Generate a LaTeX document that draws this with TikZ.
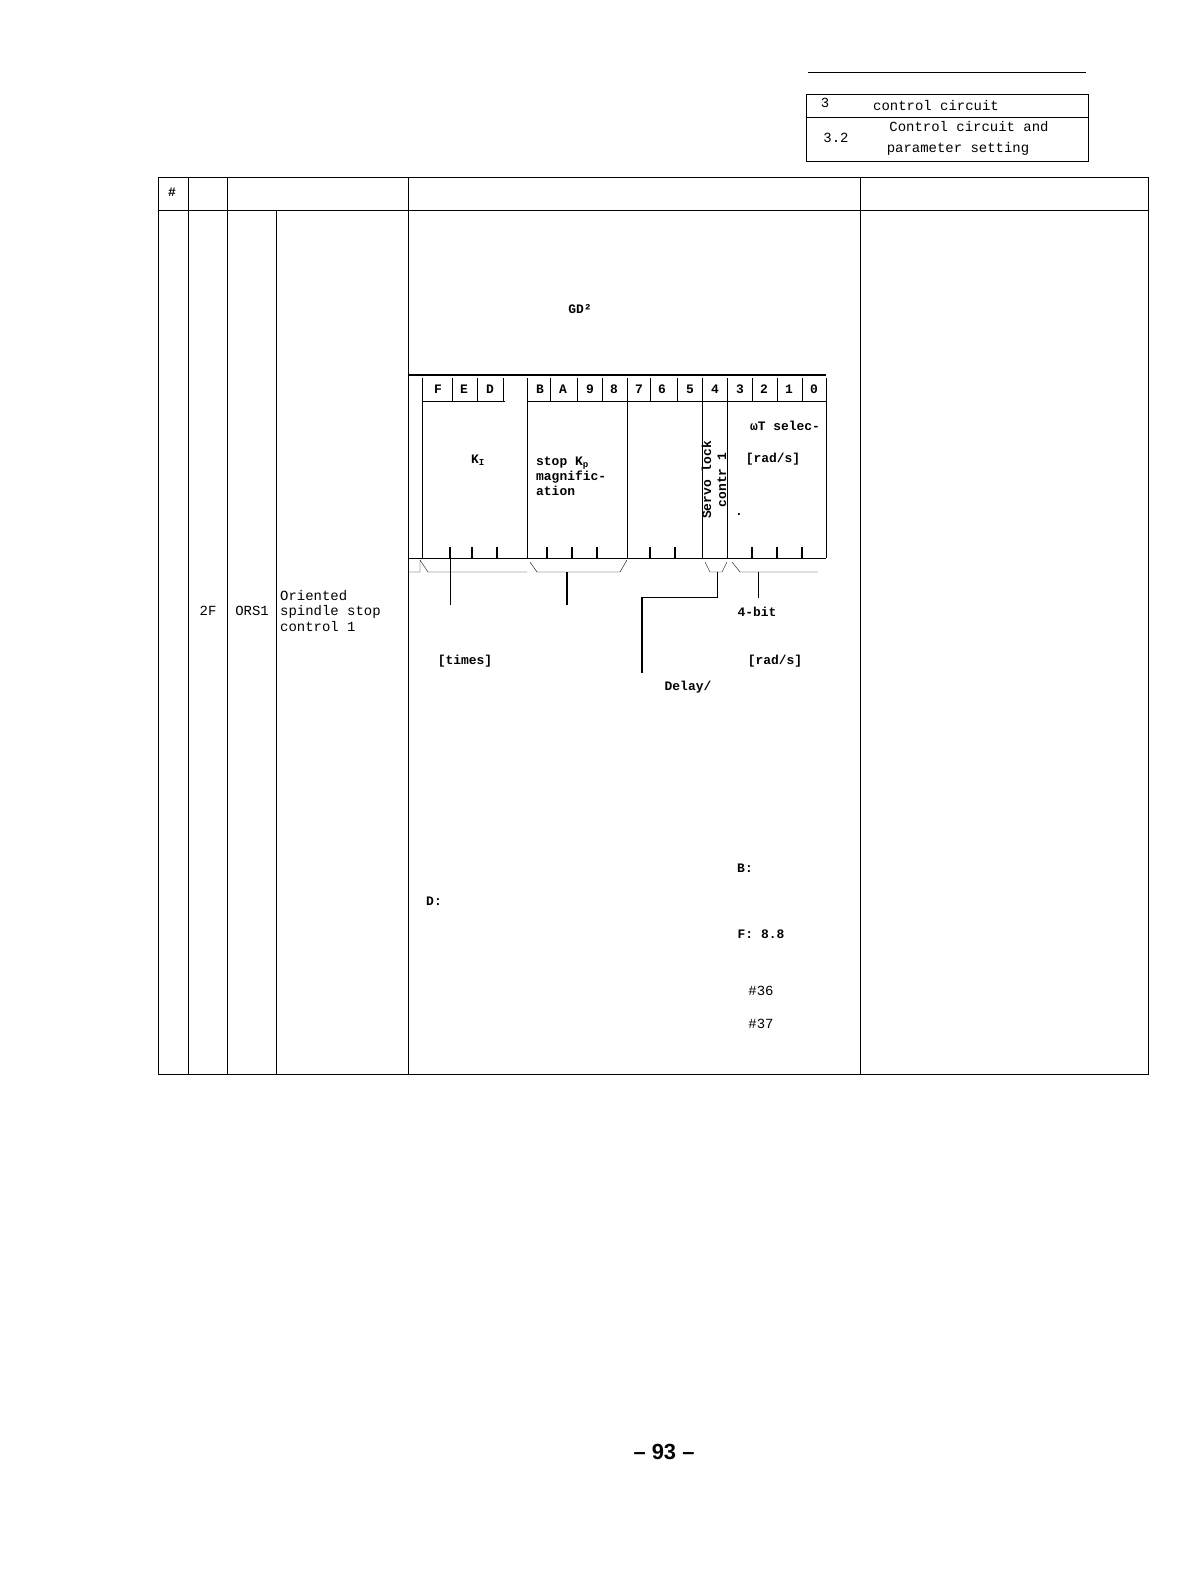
\documentclass[tikz,border=0pt]{standalone}
\usepackage{fontspec}
\setmonofont{Liberation Mono}
\setsansfont{Liberation Sans}
\begin{document}
\begin{tikzpicture}[x=1bp,y=-1bp,
    txt/.style={font=\ttfamily\fontsize{14}{16}\selectfont,inner sep=0pt},
    btxt/.style={font=\ttfamily\bfseries\fontsize{13}{15}\selectfont,inner sep=0pt},
    tick/.style={line width=1.2pt}]
            \useasboundingbox (0,0) rectangle (1202,1584);
            % header box
            \draw (808,72) -- (1086,72);
            \draw (806,94) rectangle (1088,161);
            \draw (806,117) -- (1088,117);
            \node[txt] (ch) at (825,103) {3};
            \node[txt] (cht) at (936,106) {control circuit};
            \node[txt] (sec) at (836,138) {3.2};
            \node[txt] (seca) at (969,127) {Control circuit and};
            \node[txt] (secb) at (958,149) {parameter setting};

            % table
            \draw[line width=1pt] (158,177) rectangle (1148,1074);
            \draw (158,210) -- (1148,210);
            \foreach \x in {188,227,408,860} \draw (\x,177) -- (\x,1074);
            \draw (276,210) -- (276,1074);
            \node[btxt] (hash) at (172,192) {\#};
            \node[txt] (no) at (208,611) {2F};
            \node[txt] (sym) at (252,611) {ORS1};
            \node[txt,anchor=west,align=left] (name) at (280,611) {Oriented\\spindle stop\\control 1};

            \node[btxt] (gd) at (580,309) {GD²};

            % bit row
            \draw[line width=2.5pt] (408,375) -- (826,375);
            \foreach \x in {422,452,477,503,527,550,577,602,627,650,677,702,727,752,777,802,826}
                \draw (\x,378) -- (\x,401);
            \draw (422,401) -- (505,401);
            \draw (527,401) -- (826,401);
            \foreach \b/\x in {F/438,E/464,D/490,B/540,A/563,9/590,8/614,7/639,6/662,5/690,4/715,3/740,2/764,1/789,0/814}
                \node[btxt] at (\x,389) {\b};

            % fields
            \foreach \x in {422,527,627,702,727,826} \draw[line width=1pt] (\x,401) -- (\x,558);
            \draw[line width=1pt] (408,558) -- (826,558);
            \foreach \x in {450,472,497,547,572,597,650,675,752,777,802}
                \draw[tick] (\x,547) -- (\x,558);
            \node[btxt] (ki) at (478,460) {K\textsubscript{I}};
            \node[btxt,anchor=west,align=left] (kp) at (536,476) {stop K\textsubscript{p}\\magnific-\\ation};
            \node[btxt,rotate=90,align=center] (servo) at (714,480) {Servo lock\\contr 1};
            \node[btxt] (wt) at (785,426) {ωT selec-};
            \node[btxt] (wtu) at (773,459) {[rad/s]};
            \node[btxt] (dot) at (739,515) {.};

            % braces and leaders
            \draw (408,572) -- (420,572) -- (420,560) -- (428,572) -- (527,572);
            \draw (530,562) -- (537,572) -- (620,572) -- (627,560);
            \draw (705,562) -- (710,572) -- (722,572) -- (727,562);
            \draw (732,562) -- (740,572) -- (818,572);
            \draw (450,558) -- (450,605);
            \draw[line width=1.3pt] (567,572) -- (567,605);
            \draw (717,572) -- (717,597) -- (642,597);
            \draw[line width=1.5pt] (642,597) -- (642,673);
            \draw (758,572) -- (758,598);

            \node[btxt] (bit4) at (757,612) {4-bit};
            \node[btxt] (times) at (465,661) {[times]};
            \node[btxt] (rad) at (775,661) {[rad/s]};
            \node[btxt] (delay) at (688,687) {Delay/};
            \node[btxt] (bnote) at (745,868) {B:};
            \node[btxt] (dnote) at (434,901) {D:};
            \node[btxt] (fnote) at (761,934) {F: 8.8};
            \node[txt] (p36) at (761,991) {\#36};
            \node[txt] (p37) at (761,1024) {\#37};

            \node[font=\sffamily\bfseries\fontsize{22}{24}\selectfont] (page) at (664,1452) {-- 93 --};
        \end{tikzpicture}
\end{document}
